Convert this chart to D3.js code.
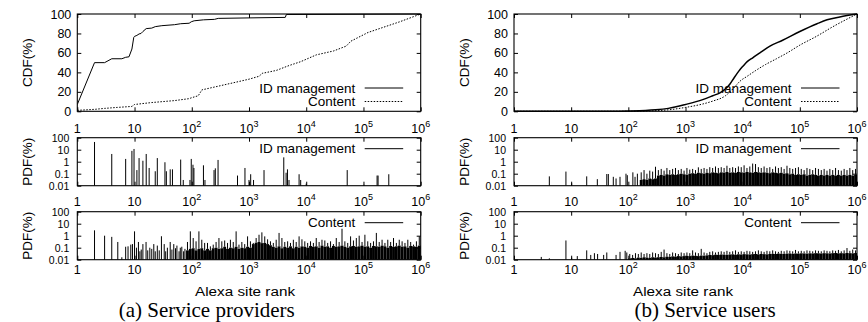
<!DOCTYPE html>
<html><head><meta charset="utf-8">
<script src="https://cdn.jsdelivr.net/npm/d3@7"></script>
<style>
html,body{margin:0;padding:0;background:#fff;}
svg{display:block;}
text{font-family:"Liberation Sans",Arial,Helvetica,sans-serif;fill:#000;}
.cap{font-family:"Liberation Serif","Times New Roman",serif;}
</style></head>
<body>
<svg id="chart" width="868" height="322"></svg>
<script>
// ---------------- data ----------------
const xTickExp = [0, 1, 2, 3, 4, 5, 6];
const cdfTicks = [0, 20, 40, 60, 80, 100];
const pdfTicks = [100, 10, 1, 0.1, 0.01];
const pdfTickLabels = ["100", "10", "1", "0.1", "0.01"];
const seriesNames = ["ID management", "Content"];
const panelTitles = ["(a) Service providers", "(b) Service users"];
const xAxisTitle = "Alexa site rank";

// CDF (a) service providers
const aIdCdfRank = [1, 2, 3, 4, 6, 7, 8, 9, 9.7, 10, 11, 12, 13, 14, 16, 20, 23, 30, 50, 64, 90, 98, 110, 160, 250, 290, 1000, 4300, 4500, 1000000];
const aIdCdf     = [7, 50, 50, 54, 54, 55.5, 56, 64, 76, 77, 78, 79.5, 80, 82, 85, 85.5, 87, 88, 89, 90, 90.5, 92, 93, 94, 94.5, 95.5, 96, 96.5, 99.5, 100];
const aContentCdfRank = [1, 2, 3, 5, 9, 10, 20, 50, 90, 100, 130, 150, 300, 600, 1000, 1500, 1700, 3000, 5000, 8000, 15000, 30000, 50000, 60000, 120000, 430000, 1000000];
const aContentCdf     = [1, 2, 3, 4, 5, 7, 9, 11, 13, 14, 16, 22, 26, 30, 33, 36, 39, 42, 47, 51, 58, 62, 67, 72, 81, 92, 100];

// CDF (b) service users
const bIdCdfRank = [1, 10, 50, 100, 200, 300, 500, 1000, 2000, 3000, 4000, 5000, 6000, 7000, 8000, 9000, 10000, 12000, 15000, 20000, 30000, 50000, 100000, 200000, 300000, 500000, 1000000];
const bIdCdf     = [0, 0, 0.1, 0.3, 0.8, 1.5, 3, 7, 12, 16, 19, 23, 28, 34, 39, 43, 46, 51, 55, 60, 67, 73, 82, 90, 94, 97, 100];
const bContentCdfRank = [1, 10, 50, 100, 200, 500, 1000, 2000, 3000, 5000, 7000, 9000, 12000, 17000, 25000, 39000, 60000, 100000, 195000, 380000, 1000000];
const bContentCdf     = [0, 0, 0, 0.1, 0.3, 1.5, 4, 7.5, 10.5, 16, 24, 31, 36, 42, 48, 54, 60, 68, 77, 87, 100];

// PDF isolated spikes (rank, PDF %)
const aIdPdfRank = [2, 4, 7, 9, 9.8, 11, 12, 14, 16, 18, 23, 25, 34, 36, 42, 46, 64, 71, 93, 98, 105, 109, 160, 170, 245, 258, 288, 630, 850, 1000, 1070, 1200, 1830, 4050, 4450, 4700, 5000, 7500, 8000, 10000, 52000, 102000, 173000, 180000, 277000];
const aIdPdfVal  = [44, 4.4, 1.7, 8, 11.5, 0.2, 2, 1.2, 4.4, 0.3, 0.16, 2, 0.9, 0.16, 0.23, 0.23, 1.5, 0.03, 0.03, 1.7, 0.56, 0.3, 0.5, 0.03, 0.2, 0.28, 1.4, 0.07, 0.3, 0.03, 0.09, 0.03, 0.2, 2.3, 0.12, 0.23, 0.03, 0.09, 0.03, 0.015, 0.2, 0.012, 0.07, 0.07, 0.09];

const aContentPdfRank = [2, 3, 4, 5.1, 6, 7, 7.7, 8.6, 9.2, 10, 10.8, 11.7, 12.4, 13.1, 14, 15.9, 17, 18.5, 20, 21.7, 23, 25, 27, 29.5, 33, 35, 37.5, 42, 45, 48.5, 52, 55, 60, 63, 67, 72, 76];
const aContentPdfVal  = [2.8, 1.0, 0.8, 0.3, 0.016, 0.12, 0.13, 0.18, 0.2, 2.3, 0.1, 0.3, 0.05, 0.07, 0.2, 0.3, 0.06, 0.1, 0.08, 0.2, 0.05, 0.15, 0.06, 0.9, 0.2, 0.05, 0.1, 0.3, 0.07, 0.2, 0.09, 0.15, 0.05, 0.1, 0.12, 0.05, 0.08];

const bIdPdfRank = [4.15, 8.1, 10.2, 18.7, 28.7, 42, 44.7, 54.6, 61, 71.5, 91, 96, 120, 131, 144];
const bIdPdfVal  = [0.06, 0.15, 0.016, 0.06, 0.035, 0.094, 0.094, 0.055, 0.04, 0.055, 0.1, 0.075, 0.13, 0.055, 0.1];

const bContentPdfRank = [3.0, 4.15, 8.1, 10.2, 12.8, 18.7, 22, 25.5, 29, 37, 42, 61, 71.5, 88, 94];
const bContentPdfVal  = [0.017, 0.013, 0.4, 0.015, 0.02, 0.06, 0.025, 0.035, 0.03, 0.025, 0.04, 0.025, 0.045, 0.055, 0.04];

// PDF dense regions: log bins (binsPerDecade per decade), solid level and tallest spike per bin
const binsPerDecade = 20;
const aContentBinStart = 38;
const aContentBinBase = [0.06, 0.08, 0.09, 0.06, 0.08, 0.09, 0.06, 0.08, 0.06, 0.09, 0.1, 0.08, 0.09, 0.12, 0.08, 0.1, 0.09, 0.12, 0.08, 0.1, 0.09, 0.12, 0.1, 0.2, 0.26, 0.3, 0.24, 0.25, 0.2, 0.16, 0.12, 0.1, 0.13, 0.09, 0.12, 0.1, 0.13, 0.09, 0.12, 0.1, 0.13, 0.12, 0.1, 0.14, 0.12, 0.13, 0.1, 0.15, 0.12, 0.13, 0.1, 0.14, 0.12, 0.13, 0.15, 0.12, 0.1, 0.13, 0.14, 0.12, 0.13, 0.15, 0.12, 0.13, 0.1, 0.14, 0.13, 0.12, 0.15, 0.13, 0.1, 0.14, 0.12, 0.13, 0.15, 0.12, 0.13, 0.1, 0.14, 0.13, 0.12, 0.15];
const aContentBinPeak = [0.3, 2.3, 0.64, 0.34, 2.3, 0.46, 0.25, 0.25, 0.13, 0.18, 0.3, 0.64, 0.34, 0.4, 0.25, 0.46, 0.3, 2.3, 0.18, 0.3, 0.2, 0.88, 0.34, 0.25, 0.64, 1.2, 1.9, 0.88, 0.5, 0.34, 0.25, 0.46, 1.7, 0.64, 0.3, 0.34, 0.25, 0.46, 0.3, 0.88, 0.5, 0.34, 0.25, 0.34, 0.25, 0.64, 0.3, 0.46, 0.4, 0.25, 0.34, 0.2, 0.64, 0.3, 3.8, 0.34, 0.25, 0.88, 0.4, 0.64, 1.0, 0.3, 1.2, 0.34, 0.25, 0.34, 1.7, 0.3, 0.46, 0.25, 0.46, 0.3, 0.64, 0.25, 0.46, 0.34, 0.25, 0.46, 0.3, 0.18, 0.34, 0.88];

const bIdBinStart = 44;
const bIdBinBase = [0.03, 0.035, 0.03, 0.04, 0.035, 0.04, 0.07, 0.08, 0.07, 0.09, 0.08, 0.09, 0.08, 0.09, 0.1, 0.09, 0.08, 0.1, 0.11, 0.1, 0.12, 0.11, 0.1, 0.12, 0.11, 0.13, 0.12, 0.11, 0.13, 0.12, 0.14, 0.12, 0.13, 0.12, 0.14, 0.13, 0.12, 0.14, 0.13, 0.12, 0.14, 0.13, 0.12, 0.13, 0.12, 0.11, 0.13, 0.12, 0.11, 0.12, 0.1, 0.11, 0.09, 0.1, 0.08, 0.09, 0.08, 0.09, 0.07, 0.08, 0.09, 0.08, 0.07, 0.08, 0.07, 0.08, 0.07, 0.08, 0.07, 0.08, 0.07, 0.08, 0.07, 0.08, 0.07, 0.08];
const bIdBinPeak = [0.13, 0.2, 0.1, 0.18, 0.15, 0.38, 0.2, 0.25, 0.18, 0.3, 0.2, 0.25, 0.3, 0.2, 0.25, 0.18, 0.3, 0.22, 0.25, 0.2, 0.34, 0.25, 0.3, 0.25, 0.35, 0.3, 0.4, 0.3, 0.35, 0.3, 0.46, 0.3, 0.35, 0.3, 0.4, 0.35, 0.5, 0.3, 0.4, 0.7, 0.64, 0.35, 0.3, 0.4, 0.3, 0.35, 0.25, 0.4, 0.3, 0.35, 0.25, 0.46, 0.3, 0.25, 0.3, 0.35, 0.25, 0.2, 0.3, 0.25, 0.2, 0.3, 0.25, 0.2, 0.25, 0.18, 0.25, 0.2, 0.3, 0.2, 0.18, 0.25, 0.2, 0.3, 0.2, 0.25];

const bContentBinStart = 40;
const bContentBinBase = [0.013, 0.014, 0.013, 0.015, 0.014, 0.016, 0.015, 0.014, 0.016, 0.015, 0.016, 0.017, 0.016, 0.018, 0.017, 0.019, 0.018, 0.02, 0.019, 0.02, 0.021, 0.02, 0.022, 0.021, 0.02, 0.022, 0.021, 0.023, 0.025, 0.024, 0.026, 0.025, 0.027, 0.026, 0.025, 0.027, 0.028, 0.026, 0.028, 0.027, 0.029, 0.028, 0.027, 0.029, 0.03, 0.028, 0.03, 0.029, 0.028, 0.03, 0.031, 0.03, 0.032, 0.031, 0.03, 0.032, 0.033, 0.031, 0.033, 0.032, 0.034, 0.033, 0.032, 0.034, 0.033, 0.035, 0.034, 0.033, 0.035, 0.034, 0.033, 0.035, 0.036, 0.034, 0.035, 0.034, 0.036, 0.035, 0.034, 0.036];
const bContentBinPeak = [0.03, 0.025, 0.035, 0.03, 0.04, 0.03, 0.035, 0.03, 0.04, 0.035, 0.03, 0.045, 0.07, 0.035, 0.03, 0.04, 0.035, 0.03, 0.04, 0.035, 0.04, 0.035, 0.06, 0.04, 0.035, 0.08, 0.04, 0.035, 0.045, 0.05, 0.04, 0.045, 0.05, 0.045, 0.055, 0.045, 0.05, 0.06, 0.045, 0.05, 0.045, 0.055, 0.05, 0.045, 0.05, 0.06, 0.05, 0.045, 0.055, 0.05, 0.06, 0.05, 0.045, 0.055, 0.05, 0.06, 0.055, 0.05, 0.065, 0.05, 0.055, 0.05, 0.06, 0.055, 0.05, 0.06, 0.055, 0.05, 0.06, 0.055, 0.05, 0.06, 0.055, 0.065, 0.05, 0.06, 0.094, 0.055, 0.07, 0.06];

// ---------------- drawing ----------------
const svg = d3.select("#chart");
const panels = [
  {left: 77.3, right: 420.7, titleX: 206.7, xTitleX: 245,
   cdf: [[aIdCdfRank, aIdCdf, 1], [aContentCdfRank, aContentCdf, 1]],
   pdf: [
     {rank: aIdPdfRank, val: aIdPdfVal, start: 0, base: [], peak: [], name: seriesNames[0]},
     {rank: aContentPdfRank, val: aContentPdfVal, start: aContentBinStart, base: aContentBinBase, peak: aContentBinPeak, name: seriesNames[1]}
   ]},
  {left: 514, right: 857, titleX: 705, xTitleX: 683,
   cdf: [[bIdCdfRank, bIdCdf, 1.5], [bContentCdfRank, bContentCdf, 1]],
   pdf: [
     {rank: bIdPdfRank, val: bIdPdfVal, start: bIdBinStart, base: bIdBinBase, peak: bIdBinPeak, name: seriesNames[0]},
     {rank: bContentPdfRank, val: bContentPdfVal, start: bContentBinStart, base: bContentBinBase, peak: bContentBinPeak, name: seriesNames[1]}
   ]}
];
const rows = {
  cdf: {top: 14, bottom: 111.3, labelBase: 132.7},
  pdf: [{top: 137.7, bottom: 185.7, labelBase: 206}, {top: 211.7, bottom: 259.7, labelBase: 273.5}]
};
const tickLen = 4;

function xLabels(g, xs, baseY) {
  xTickExp.forEach(e => {
    const t = g.append("text").attr("x", xs(Math.pow(10, e))).attr("y", baseY)
      .attr("text-anchor", "middle").style("font-size", "12.5px");
    if (e === 0) t.text("1");
    else if (e === 1) t.text("10");
    else {
      t.append("tspan").text("10");
      t.append("tspan").attr("dy", -6).style("font-size", "9px").text(String(e));
    }
  });
}

function frame(g, xs, ys, left, right, top, bottom, yVals) {
  const xv = xTickExp.map(e => Math.pow(10, e));
  g.append("g").attr("transform", `translate(0,${bottom})`)
    .call(d3.axisBottom(xs).tickValues(xv).tickSize(-tickLen).tickSizeOuter(0).tickFormat(""));
  g.append("g").attr("transform", `translate(0,${top})`)
    .call(d3.axisTop(xs).tickValues(xv).tickSize(-tickLen).tickSizeOuter(0).tickFormat(""));
  g.append("g").attr("transform", `translate(${left},0)`)
    .call(d3.axisLeft(ys).tickValues(yVals).tickSize(-tickLen).tickSizeOuter(0).tickFormat(""));
  g.append("g").attr("transform", `translate(${right},0)`)
    .call(d3.axisRight(ys).tickValues(yVals).tickSize(-tickLen).tickSizeOuter(0).tickFormat(""));
  g.selectAll(".domain").remove();
  g.selectAll(".tick line").attr("stroke", "#000").attr("stroke-width", 1);
  g.append("rect").attr("x", left).attr("y", top).attr("width", right - left).attr("height", bottom - top)
    .attr("fill", "none").attr("stroke", "#000").attr("stroke-width", 1.1);
}

function legend(g, right, y, label, dashed) {
  g.append("text").attr("x", right - 65.5).attr("y", y + 4.5).attr("text-anchor", "end")
    .style("font-size", "13.5px").text(label);
  g.append("line").attr("x1", right - 56).attr("x2", right - 17.5).attr("y1", y).attr("y2", y)
    .attr("stroke", "#000").attr("stroke-width", 1)
    .attr("stroke-dasharray", dashed ? "1.5,1.5" : null);
}

panels.forEach((p, pi) => {
  const xs = d3.scaleLog().domain([1, 1e6]).range([p.left, p.right]);
  const clipId = "clip" + pi;

  // ---- CDF ----
  const r = rows.cdf;
  const yc = d3.scaleLinear().domain([0, 100]).range([r.bottom, r.top]);
  const g = svg.append("g");
  g.append("clipPath").attr("id", clipId + "c").append("rect")
    .attr("x", p.left).attr("y", r.top - 1).attr("width", p.right - p.left).attr("height", r.bottom - r.top + 2);
  const line = d3.line().curve(d3.curveMonotoneX).x(d => xs(d[0])).y(d => yc(d[1]));
  const lineStep = d3.line().x(d => xs(d[0])).y(d => yc(d[1]));
  p.cdf.forEach((s, si) => {
    const pts = s[0].map((rk, i) => [rk, s[1][i]]);
    g.append("path").attr("d", (pi === 1 ? line : lineStep)(pts)).attr("fill", "none").attr("stroke", "#000")
      .attr("stroke-width", s[2]).attr("stroke-dasharray", si === 1 ? "1.5,1.5" : null)
      .attr("clip-path", `url(#${clipId}c)`);
  });
  frame(g, xs, yc, p.left, p.right, r.top, r.bottom, cdfTicks);
  cdfTicks.forEach(v => {
    g.append("text").attr("x", p.left - 6).attr("y", yc(v) + 4.5).attr("text-anchor", "end")
      .style("font-size", "12.5px").text(v);
  });
  xLabels(g, xs, r.labelBase);
  g.append("text").attr("transform", `translate(${p.left - 45},${(r.top + r.bottom) / 2}) rotate(-90)`)
    .attr("text-anchor", "middle").style("font-size", "13.5px").text("CDF(%)");
  legend(g, p.right, 88, seriesNames[0], false);
  legend(g, p.right, 101.5, seriesNames[1], true);

  // ---- PDFs ----
  p.pdf.forEach((s, si) => {
    const rr = rows.pdf[si];
    const yp = d3.scaleLog().domain([0.01, 100]).range([rr.bottom, rr.top]).clamp(true);
    const gp = svg.append("g");
    // dense bins
    s.base.forEach((b, i) => {
      const k = s.start + i;
      const lo = Math.pow(10, k / binsPerDecade), hi = Math.pow(10, (k + 1) / binsPerDecade);
      const x0 = xs(lo), x1 = Math.min(xs(hi), p.right);
      gp.append("rect").attr("x", x0).attr("y", yp(b)).attr("width", x1 - x0)
        .attr("height", rr.bottom - yp(b)).attr("fill", "#000");
      const xm = xs(Math.sqrt(lo * hi));
      gp.append("line").attr("x1", xm).attr("x2", xm).attr("y1", yp(b)).attr("y2", yp(s.peak[i]))
        .attr("stroke", "#000").attr("stroke-width", 1);
    });
    // isolated spikes
    s.rank.forEach((rk, i) => {
      const x = xs(rk);
      gp.append("line").attr("x1", x).attr("x2", x).attr("y1", rr.bottom).attr("y2", yp(s.val[i]))
        .attr("stroke", "#000").attr("stroke-width", 1);
    });
    frame(gp, xs, yp, p.left, p.right, rr.top, rr.bottom, pdfTicks);
    pdfTicks.forEach((v, i) => {
      gp.append("text").attr("x", p.left - 8).attr("y", yp(v) + 3.8).attr("text-anchor", "end")
        .style("font-size", "10.5px").attr("textLength", pdfTickLabels[i].length <= 2 ? null : null)
        .text(pdfTickLabels[i]);
    });
    xLabels(gp, xs, rr.labelBase);
    gp.append("text").attr("transform", `translate(${p.left - 45},${(rr.top + rr.bottom) / 2}) rotate(-90)`)
      .attr("text-anchor", "middle").style("font-size", "13.5px").text("PDF(%)");
    legend(gp, p.right, rr.top + 11, s.name, false);
  });

  svg.append("text").attr("x", p.xTitleX).attr("y", 296).attr("text-anchor", "middle")
    .style("font-size", "12px").attr("textLength", 100).attr("lengthAdjust", "spacingAndGlyphs").text(xAxisTitle);
  svg.append("text").attr("class", "cap").attr("x", p.titleX).attr("y", 317).attr("text-anchor", "middle")
    .style("font-size", "21px").text(panelTitles[pi]);
});
</script>
</body></html>
